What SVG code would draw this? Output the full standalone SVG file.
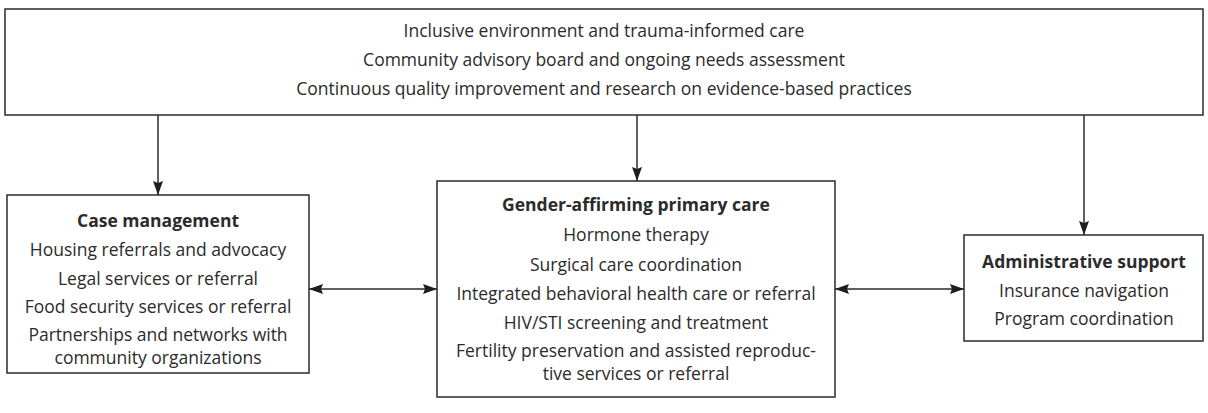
<svg xmlns="http://www.w3.org/2000/svg" width="1208" height="413" viewBox="0 0 1208 413">
  <style>
    .box { fill: #ffffff; stroke: #2b2b2b; stroke-width: 1.5; }
    .t { font-family: "Open Sans", "Noto Sans", "DejaVu Sans", sans-serif; font-size: 17.5px; fill: #2b2b2b; text-anchor: middle; }
    .b { font-weight: bold; }
    .link { stroke: #2b2b2b; stroke-width: 1.5; fill: none; }
  </style>
  <defs>
    <marker id="head" viewBox="0 0 14 10" refX="14" refY="5" markerWidth="14" markerHeight="10" markerUnits="userSpaceOnUse" orient="auto-start-reverse">
      <path d="M0,0 L14,5 L0,10 L2,5 z" fill="#1e1e1e"/>
    </marker>
  </defs>
  <rect width="1208" height="413" fill="#ffffff"/>

  <!-- cross-cutting foundations -->
  <g id="foundations">
    <rect class="box" x="5" y="9" width="1198" height="106"/>
    <text class="t" x="604" y="37">Inclusive environment and trauma-informed care</text>
    <text class="t" x="604" y="66">Community advisory board and ongoing needs assessment</text>
    <text class="t" x="604" y="95">Continuous quality improvement and research on evidence-based practices</text>
  </g>

  <!-- case management -->
  <g id="case-management">
    <rect class="box" x="7" y="195" width="302" height="178"/>
    <text class="t b" x="158" y="227">Case management</text>
    <text class="t" x="158" y="256">Housing referrals and advocacy</text>
    <text class="t" x="158" y="284.5">Legal services or referral</text>
    <text class="t" x="158" y="313">Food security services or referral</text>
    <text class="t" x="158" y="340.5">Partnerships and networks with</text>
    <text class="t" x="158" y="364">community organizations</text>
  </g>

  <!-- primary care -->
  <g id="primary-care">
    <rect class="box" x="437" y="181" width="398" height="216"/>
    <text class="t b" x="636" y="211">Gender-affirming primary care</text>
    <text class="t" x="636" y="241">Hormone therapy</text>
    <text class="t" x="636" y="270.5">Surgical care coordination</text>
    <text class="t" x="636" y="299.5">Integrated behavioral health care or referral</text>
    <text class="t" x="636" y="329">HIV/STI screening and treatment</text>
    <text class="t" x="636" y="356.5">Fertility preservation and assisted reproduc-</text>
    <text class="t" x="636" y="380">tive services or referral</text>
  </g>

  <!-- administrative support -->
  <g id="admin-support">
    <rect class="box" x="964" y="235" width="239" height="106"/>
    <text class="t b" x="1084" y="268">Administrative support</text>
    <text class="t" x="1084" y="297">Insurance navigation</text>
    <text class="t" x="1084" y="325">Program coordination</text>
  </g>

  <!-- connectors -->
  <g id="connectors">
    <line class="link" x1="158" y1="115" x2="158" y2="195" marker-end="url(#head)"/>
    <line class="link" x1="637" y1="115" x2="637" y2="181" marker-end="url(#head)"/>
    <line class="link" x1="1084" y1="115" x2="1084" y2="235" marker-end="url(#head)"/>
    <line class="link" x1="309" y1="289" x2="437" y2="289" marker-start="url(#head)" marker-end="url(#head)"/>
    <line class="link" x1="835" y1="289" x2="964" y2="289" marker-start="url(#head)" marker-end="url(#head)"/>
  </g>
</svg>
